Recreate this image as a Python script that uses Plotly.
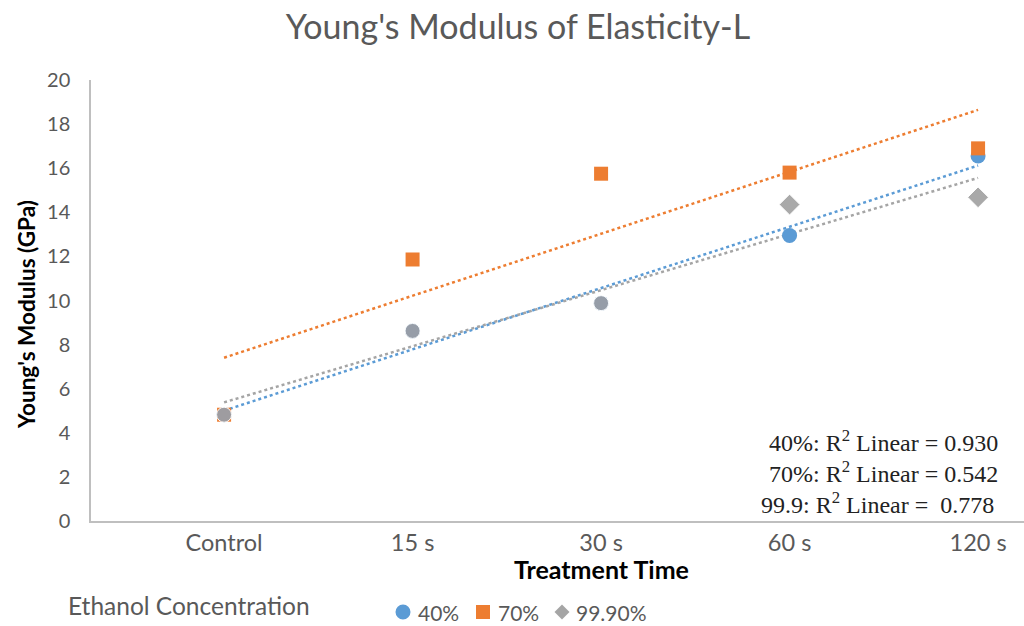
import numpy as np
import plotly.graph_objects as go

categories = ["Control", "15 s", "30 s", "60 s", "120 s"]
y_40 = [4.82, 8.62, 9.88, 12.95, 16.55]
y_70 = [4.82, 11.86, 15.75, 15.80, 16.90]
y_999 = [4.82, 8.62, 9.88, 14.35, 14.68]
series_names = ["40%", "70%", "99.90%"]
r2_labels = ["40%: R<sup>2</sup> Linear = 0.930",
             "70%: R<sup>2</sup> Linear = 0.542",
             "99.9: R<sup>2</sup> Linear =  0.778"]
y_ticks = list(range(0, 21, 2))

BLUE = "#5b9bd5"
ORANGE = "#ed7d31"
GRAY = "#a5a5a5"
GRAY_C = "#9a9ea6"
TXT = "#595959"
FONT = "Lato"

W, H = 1024, 626
L, R, T, B = 91, 0, 80, 105
PW, PH = W - L - R, H - T - B


def px(xp):
    return (xp - L) / PW


def py(yp):
    return (H - B - yp) / PH


xi = np.arange(len(categories))

fig = go.Figure()

# trendlines (least-squares fits of each series)
for ys, col in [(y_40, BLUE), (y_70, ORANGE), (y_999, GRAY)]:
    m, c = np.polyfit(xi, ys, 1)
    xs = np.array([xi[0], xi[-1]])
    fig.add_trace(go.Scatter(x=xs, y=m * xs + c, mode="lines",
                             line=dict(color=col, width=2.5, dash="dot"),
                             showlegend=False, hoverinfo="skip"))

fig.add_trace(go.Scatter(x=xi, y=y_40, mode="markers", name=series_names[0], showlegend=False,
                         marker=dict(symbol="circle", size=15, color=BLUE)))
fig.add_trace(go.Scatter(x=xi, y=y_70, mode="markers", name=series_names[1], showlegend=False,
                         marker=dict(symbol="square", size=14, color=ORANGE)))
fig.add_trace(go.Scatter(x=xi, y=y_999, mode="markers", name=series_names[2], showlegend=False,
                         marker=dict(symbol=["circle", "circle", "circle", "diamond", "diamond"],
                                     size=[15, 15, 15, 16, 16],
                                     color=[GRAY_C, GRAY_C, GRAY_C, GRAY, GRAY],
                                     opacity=0.95)))

x_lo = -0.706
x_hi = x_lo + PW / 188.5

fig.update_layout(
    width=W, height=H,
    margin=dict(l=L, r=R, t=T, b=B),
    paper_bgcolor="white", plot_bgcolor="white",
    font=dict(family=FONT, color=TXT),
    showlegend=False,
    title=dict(text="Young's Modulus of Elasticity-L", x=px(518), xref="paper",
               xanchor="center", y=1 - 27 / H, yref="container", yanchor="middle",
               font=dict(size=34, color=TXT, family=FONT)),
    xaxis=dict(range=[x_lo, x_hi], tickmode="array", tickvals=list(xi), ticktext=categories,
               showgrid=False, zeroline=False, showline=True, linecolor="#bfbfbf", linewidth=1.5,
               ticks="", tickfont=dict(size=23.5, color=TXT), ticklabelstandoff=0),
    yaxis=dict(range=[0, 20], tickmode="array", tickvals=y_ticks,
               showgrid=False, zeroline=False, showline=True, linecolor="#bfbfbf", linewidth=1.5,
               ticks="", tickfont=dict(size=20, color=TXT), ticklabelstandoff=15),
)

ann = [
    dict(text="<b>Young's Modulus (GPa)</b>", x=px(26), y=py(315), textangle=-90,
         font=dict(size=22.5, color="black", family=FONT)),
    dict(text="<b>Treatment Time</b>", x=px(601), y=py(569),
         font=dict(size=25, color="black", family=FONT)),
    dict(text="Ethanol Concentration", x=px(66), y=py(605), xanchor="left",
         font=dict(size=24.5, color=TXT, family=FONT)),
]

# legend: symbols as shapes, labels as text
LEG_Y = 612
legend_text_x = [416, 496, 574]
for name, xp in zip(series_names, legend_text_x):
    ann.append(dict(text=name, x=px(xp), y=py(LEG_Y), xanchor="left",
                    font=dict(size=21, color=TXT, family=FONT)))

shapes = [
    dict(type="circle", xref="paper", yref="paper",
         x0=px(403 - 7.5), x1=px(403 + 7.5), y0=py(LEG_Y + 7.5), y1=py(LEG_Y - 7.5),
         fillcolor=BLUE, line=dict(width=0)),
    dict(type="rect", xref="paper", yref="paper",
         x0=px(483 - 7), x1=px(483 + 7), y0=py(LEG_Y + 7), y1=py(LEG_Y - 7),
         fillcolor=ORANGE, line=dict(width=0)),
    dict(type="path", xref="paper", yref="paper",
         path=(f"M {px(562 - 7.5)} {py(LEG_Y)} L {px(562)} {py(LEG_Y - 7.5)} "
               f"L {px(562 + 7.5)} {py(LEG_Y)} L {px(562)} {py(LEG_Y + 7.5)} Z"),
         fillcolor=GRAY, line=dict(width=0)),
]

for i, t in enumerate(r2_labels):
    ann.append(dict(text=t, x=px(767 if i < 2 else 759), y=py(441 + 31 * i), xanchor="left",
                    font=dict(size=24, color="#222222", family="Liberation Serif")))
for a in ann:
    a.update(xref="paper", yref="paper", showarrow=False,
             xanchor=a.get("xanchor", "center"), yanchor="middle")
fig.update_layout(annotations=ann, shapes=shapes)

fig.write_html("out.html")
